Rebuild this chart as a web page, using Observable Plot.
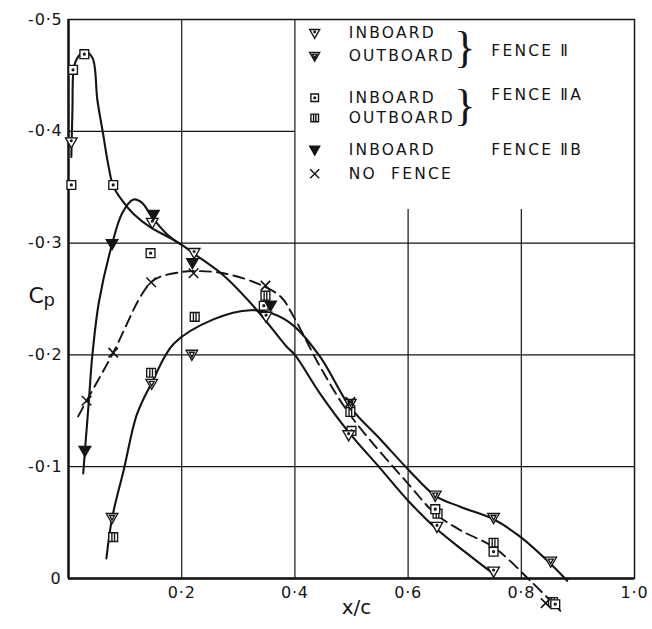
<!DOCTYPE html>
<html><head><meta charset="utf-8">
<script src="https://cdn.jsdelivr.net/npm/d3@7"></script>
<script src="https://cdn.jsdelivr.net/npm/@observablehq/plot@0.6"></script>
<style>body{margin:0;background:#fff} svg{display:block}</style>
</head><body><div id="chart"></div>
<script>
// ---- axes / ticks ----
const xTicks = [0.2, 0.4, 0.6, 0.8, 1.0];
const xTickLabels = ["0·2", "0·4", "0·6", "0·8", "1·0"];
const yTicks = [-0.1, -0.2, -0.3, -0.4, -0.5];
const yTickLabels = ["-0·1", "-0·2", "-0·3", "-0·4", "-0·5"];
const originLabel = ["0"];
const gridXFull = [0.2, 0.4];
const gridXShort = [0.6, 0.8];
const gridYFull = [-0.1, -0.2, -0.3];
const gridYShort = [-0.4];

// ---- faired curves ----
// inboard curve: leading-edge peak (fence IIA inboard), then common inboard aft part
const inboardCurveX = [0.005, 0.007, 0.009, 0.015, 0.028, 0.042, 0.051, 0.061, 0.071, 0.079, 0.095, 0.115, 0.145, 0.174, 0.198, 0.223, 0.274, 0.333, 0.386, 0.400, 0.445, 0.495, 0.550, 0.603, 0.651, 0.700, 0.751];
const inboardCurveY = [-0.377, -0.420, -0.455, -0.465, -0.471, -0.466, -0.428, -0.398, -0.368, -0.351, -0.338, -0.326, -0.314, -0.306, -0.299, -0.290, -0.271, -0.240, -0.207, -0.200, -0.165, -0.131, -0.099, -0.068, -0.044, -0.024, -0.004];
// fence IIB inboard hump, joining the inboard curve near x/c = 0.2
const fenceIIBCurveX = [0.026, 0.029, 0.036, 0.042, 0.054, 0.077, 0.095, 0.115, 0.130, 0.148, 0.174, 0.198];
const fenceIIBCurveY = [-0.094, -0.114, -0.159, -0.199, -0.248, -0.299, -0.327, -0.339, -0.336, -0.323, -0.308, -0.299];
// outboard curve
const outboardCurveX = [0.067, 0.077, 0.098, 0.121, 0.148, 0.186, 0.257, 0.322, 0.360, 0.398, 0.445, 0.498, 0.550, 0.603, 0.648, 0.693, 0.751, 0.799, 0.852, 0.881];
const outboardCurveY = [-0.018, -0.054, -0.098, -0.147, -0.176, -0.210, -0.232, -0.240, -0.237, -0.226, -0.198, -0.153, -0.125, -0.096, -0.074, -0.064, -0.053, -0.037, -0.013, 0.002];
// no fence (dashed)
const noFenceCurveX = [0.017, 0.032, 0.079, 0.127, 0.146, 0.163, 0.198, 0.221, 0.274, 0.333, 0.375, 0.398, 0.445, 0.498, 0.603, 0.648, 0.693, 0.751, 0.816, 0.869];
const noFenceCurveY = [-0.145, -0.159, -0.202, -0.252, -0.265, -0.270, -0.274, -0.275, -0.273, -0.264, -0.252, -0.234, -0.189, -0.146, -0.083, -0.058, -0.043, -0.028, 0.002, 0.029];

// ---- measured points ----
const fenceIIInX = [0.005, 0.148, 0.222, 0.349, 0.495, 0.651, 0.751];
const fenceIIInY = [-0.390, -0.318, -0.291, -0.234, -0.128, -0.046, -0.006];
const fenceIIOutX = [0.077, 0.147, 0.218, 0.498, 0.648, 0.751, 0.852];
const fenceIIOutY = [-0.054, -0.174, -0.200, -0.156, -0.074, -0.054, -0.015];
const fenceIIAInX = [0.005, 0.008, 0.028, 0.079, 0.145, 0.345, 0.500, 0.648, 0.751, 0.860];
const fenceIIAInY = [-0.352, -0.455, -0.469, -0.352, -0.291, -0.244, -0.132, -0.062, -0.024, 0.023];
const fenceIIAOutX = [0.079, 0.146, 0.223, 0.348, 0.498, 0.652, 0.751, 0.856];
const fenceIIAOutY = [-0.037, -0.184, -0.234, -0.253, -0.149, -0.058, -0.032, 0.021];
const fenceIIBInX = [0.029, 0.077, 0.150, 0.219, 0.357];
const fenceIIBInY = [-0.114, -0.299, -0.325, -0.282, -0.244];
const noFenceX = [0.032, 0.079, 0.146, 0.221, 0.348, 0.498, 0.843];
const noFenceY = [-0.159, -0.202, -0.265, -0.273, -0.262, -0.158, 0.022];

// ---- legend text ----
const legendLabels = ["INBOARD", "OUTBOARD", "INBOARD", "OUTBOARD", "INBOARD", "NO  FENCE"];
const groupLabels = ["FENCE Ⅱ", "FENCE ⅡA", "FENCE ⅡB"];

// ---- symbols ----
const R = s => Math.sqrt(s / Math.PI);
function tri(c, r) { c.moveTo(-r, -0.8 * r); c.lineTo(r, -0.8 * r); c.lineTo(0, 0.95 * r); c.closePath(); }
function sq(c, s) { c.moveTo(-s, -s); c.lineTo(s, -s); c.lineTo(s, s); c.lineTo(-s, s); c.closePath(); }
const symTriDot = {draw(c, size) { const r = R(size); tri(c, r); c.moveTo(0.15 * r, -0.3 * r); c.arc(0, -0.3 * r, 0.15 * r, 0, 2 * Math.PI); }};
const symTriIn = {draw(c, size) { const r = R(size); tri(c, r); c.moveTo(-0.42 * r, -0.45 * r); c.lineTo(0.42 * r, -0.45 * r); c.lineTo(0, 0.35 * r); c.closePath(); }};
const symTri = {draw(c, size) { tri(c, R(size)); }};
const symSqDot = {draw(c, size) { const r = R(size), s = 0.76 * r; sq(c, s); c.moveTo(0.16 * r, 0); c.arc(0, 0, 0.16 * r, 0, 2 * Math.PI); }};
const symSqBars = {draw(c, size) { const r = R(size), s = 0.76 * r; sq(c, s); c.moveTo(-0.3 * s, -s); c.lineTo(-0.3 * s, s); c.moveTo(0.3 * s, -s); c.lineTo(0.3 * s, s); }};

const INK = "#141414";
const FONT = "DejaVu Sans";
const mr = 5.8;

function pts(xs, ys, sym, opts = {}) {
  return Plot.dot(xs, {x: xs, y: ys, symbol: sym, r: mr, fill: "white", stroke: INK, strokeWidth: 1.35, ...opts});
}

// legend layout (data units inside the frame)
const legRowY = [-0.4875, -0.467, -0.430, -0.412, -0.383, -0.362];
const legSyms = [symTriDot, symTriIn, symSqDot, symSqBars, symTri, "times"];
const legMarks = legSyms.map((s, i) => Plot.dot([legRowY[i]], {
  x: 0.435, y: d => d, symbol: s, r: s === "times" ? 4.2 : 5,
  fill: s === symTri ? INK : "white", stroke: INK, strokeWidth: 1.4
}));

const chart = Plot.plot({
  width: 652, height: 629,
  marginLeft: 68, marginRight: 18, marginTop: 19, marginBottom: 51,
  style: {fontFamily: FONT, color: INK, background: "white"},
  x: {domain: [0, 1]},
  y: {domain: [0, -0.5]},
  marks: [
    Plot.ruleX(gridXFull, {y1: 0, y2: -0.5, stroke: INK, strokeWidth: 1.2}),
    Plot.ruleX(gridXShort, {y1: 0, y2: -0.33, stroke: INK, strokeWidth: 1.2}),
    Plot.ruleY(gridYFull, {x1: 0, x2: 1, stroke: INK, strokeWidth: 1.2}),
    Plot.ruleY(gridYShort, {x1: 0, x2: 0.4, stroke: INK, strokeWidth: 1.2}),
    Plot.frame({stroke: INK, strokeWidth: 1.5}),
    Plot.ruleX([0], {stroke: INK, strokeWidth: 2.4}),
    Plot.ruleY([0], {stroke: INK, strokeWidth: 2.4}),
    Plot.line(inboardCurveX, {x: inboardCurveX, y: inboardCurveY, curve: "catmull-rom", stroke: INK, strokeWidth: 2.1}),
    Plot.line(fenceIIBCurveX, {x: fenceIIBCurveX, y: fenceIIBCurveY, curve: "catmull-rom", stroke: INK, strokeWidth: 2.1}),
    Plot.line(outboardCurveX, {x: outboardCurveX, y: outboardCurveY, curve: "catmull-rom", stroke: INK, strokeWidth: 2.1}),
    Plot.line(noFenceCurveX, {x: noFenceCurveX, y: noFenceCurveY, curve: "catmull-rom", stroke: INK, strokeWidth: 1.9, strokeDasharray: "11,6"}),
    pts(fenceIIAOutX, fenceIIAOutY, symSqBars),
    pts(fenceIIAInX, fenceIIAInY, symSqDot),
    pts(fenceIIOutX, fenceIIOutY, symTriIn),
    pts(fenceIIInX, fenceIIInY, symTriDot),
    pts(fenceIIBInX, fenceIIBInY, symTri, {fill: INK}),
    Plot.dot(noFenceX, {x: noFenceX, y: noFenceY, symbol: "times", r: 4.4, stroke: INK, strokeWidth: 1.6}),
    Plot.axisX({ticks: xTicks, tickFormat: (d, i) => xTickLabels[i], tickSize: 0, tickPadding: 8, fontSize: 16, label: null}),
    Plot.axisY({ticks: yTicks, tickFormat: (d, i) => yTickLabels[i], tickSize: 0, tickPadding: 6, fontSize: 16, label: null}),
    Plot.text(originLabel, {frameAnchor: "bottom-left", dx: -18, dy: 5, fontSize: 16, fill: INK}),
    Plot.text(["C"], {frameAnchor: "left", dx: -40, dy: -3, fontSize: 22, fill: INK}),
    Plot.text(["p"], {frameAnchor: "left", dx: -25, dy: 1, fontSize: 18, fill: INK}),
    Plot.text(["x/c"], {frameAnchor: "bottom", dy: 35, dx: 5, fontSize: 20, fill: INK}),
    ...legMarks,
    Plot.text(legendLabels, {x: 0.495, y: (d, i) => legRowY[i], text: d => d, textAnchor: "start", fontSize: 15.5, fill: INK}),
    Plot.text(["}", "}"], {x: 0.700, y: (d, i) => [-0.4745, -0.423][i], text: d => d, fontSize: 44, fontFamily: "Liberation Serif", fill: INK}),
    Plot.text(groupLabels, {x: 0.747, y: (d, i) => [-0.472, -0.432, -0.383][i], text: d => d, textAnchor: "start", fontSize: 15.5, fill: INK})
  ]
});
document.getElementById("chart").append(chart);
const legendSet = new Set([...legendLabels, ...groupLabels]);
const tickSet = new Set([...xTickLabels, ...yTickLabels]);
chart.querySelectorAll("text").forEach(t => {
  const s = t.textContent;
  if (legendSet.has(s)) t.setAttribute("letter-spacing", "2.2");
  else if (tickSet.has(s)) t.setAttribute("letter-spacing", "0.8");
});
</script></body></html>
